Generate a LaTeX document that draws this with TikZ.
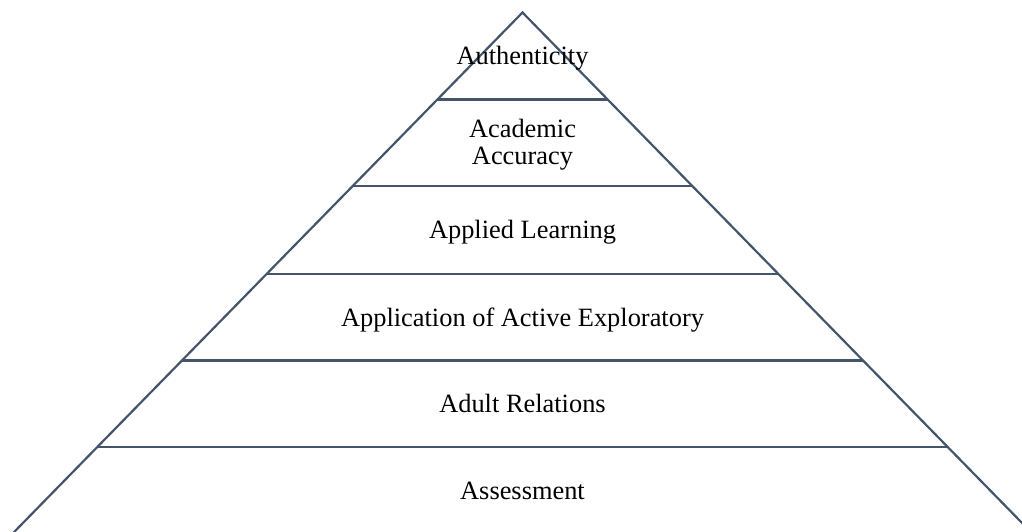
\documentclass[tikz,border=0pt]{standalone}
\usepackage{fontspec}
\setmainfont{Liberation Serif}
\definecolor{edge}{RGB}{68,84,106}
\begin{document}
\begin{tikzpicture}[x=1pt,y=-1pt,
  tier/.style={draw=edge,line width=2.2pt},
  label/.style={anchor=base,inner sep=0pt,align=center,
    font=\fontsize{26.4}{27}\selectfont}]
\useasboundingbox (0,0) rectangle (1022,531);
\clip (0,0) rectangle (1022,531);
% apex and the points where each side meets the tier lines
\def\k{0.9786}
\coordinate (apex) at (522.5,12.5);
\foreach \n/\y in {1/99.5,2/186,3/274,4/360.5,5/447.3,6/560}{
  \coordinate (L\n) at ({522.5-\k*(\y-12.5)},\y);
  \coordinate (R\n) at ({522.5+\k*(\y-12.5)},\y);
}
% sides of the pyramid
\draw[tier,line join=miter] (L6) -- (apex) -- (R6);
% tier separators
\foreach \n in {1,...,5}{\draw[tier] (L\n) -- (R\n);}
% tier labels (base anchor sits on the last line of a label)
\node[label] (t1) at (522.5,64) {Authenticity};
\node[label] (t2) at (522.5,164.3) {Academic\\Accuracy};
\node[label] (t3) at (522.5,238.3) {Applied Learning};
\node[label] (t4) at (522.5,326) {Application of Active Exploratory};
\node[label] (t5) at (522.5,412.3) {Adult Relations};
\node[label] (t6) at (522.5,499.3) {Assessment};
\end{tikzpicture}
\end{document}
